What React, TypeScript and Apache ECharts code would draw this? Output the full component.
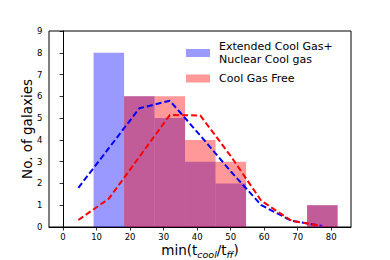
import React, { useEffect, useRef } from "react";
import * as echarts from "echarts";

const binEdges = [9.1, 18.2, 27.3, 36.4, 45.5, 54.6, 63.7, 72.8, 81.9];
const extendedCounts = [8, 6, 5, 3, 2, 0, 0, 1];
const freeCounts = [0, 6, 6, 4, 3, 0, 0, 1];
const curveX = [4.55, 13.65, 22.75, 31.85, 40.95, 50.05, 59.15, 68.25, 77.35];
const extendedCurve = [1.8, 3.62, 5.45, 5.8, 4.2, 2.55, 1.0, 0.28, 0.05];
const freeCurve = [0.32, 1.3, 3.22, 5.14, 5.12, 3.25, 1.2, 0.28, 0.05];
const xTicks = [0, 10, 20, 30, 40, 50, 60, 70, 80];

const extName = "Extended Cool Gas+\nNuclear Cool gas";
const freeName = "Cool Gas Free";
const FONT = "DejaVu Sans";

function histData(counts: number[]) {
  return counts.map((c, i) => [binEdges[i], binEdges[i + 1], c]);
}

function histSeries(name: string, counts: number[], color: string) {
  return {
    type: "custom",
    name,
    itemStyle: { color },
    encode: { x: [0, 1], y: 2 },
    data: histData(counts),
    renderItem: (params: any, api: any) => {
      const x0 = api.value(0);
      const x1 = api.value(1);
      const h = api.value(2);
      if (!h) return null;
      const p0 = api.coord([x0, h]);
      const p1 = api.coord([x1, 0]);
      return {
        type: "rect",
        shape: { x: p0[0], y: p0[1], width: p1[0] - p0[0], height: p1[1] - p0[1] },
        style: { fill: color },
      };
    },
  };
}

function lineSeries(name: string, ys: number[], color: string) {
  return {
    type: "line",
    name: name + " curve",
    data: curveX.map((x, i) => [x, ys[i]]),
    symbol: "none",
    lineStyle: { color, width: 2, type: [6, 3] },
    z: 5,
  };
}

export default function App() {
  const ref = useRef<HTMLDivElement>(null);
  useEffect(() => {
    if (!ref.current) return;
    const chart = echarts.init(ref.current, null, { renderer: "svg" });
    chart.setOption({
      animation: false,
      backgroundColor: "#fff",
      textStyle: { fontFamily: FONT },
      grid: {
        left: 49,
        right: 39,
        top: 31,
        bottom: 33,
        containLabel: false,
        outerBoundsMode: "none",
        show: true,
        borderColor: "#000",
        borderWidth: 1,
        backgroundColor: "transparent",
      },
      legend: {
        orient: "vertical",
        left: 186,
        top: 40,
        padding: 0,
        itemGap: 6,
        itemWidth: 24,
        itemHeight: 8,
        textStyle: { fontFamily: FONT, fontSize: 11, lineHeight: 13, color: "#000", padding: [0, 0, 0, 4] },
        data: [
          { name: extName, icon: "rect" },
          { name: freeName, icon: "rect" },
        ],
      },
      xAxis: {
        type: "value",
        min: -4.2,
        max: 85.9,
        name: "{a|min(t}{s|cool}{a|/t}{s|ff}{a|)}",
        nameLocation: "middle",
        nameGap: 14,
        nameMoveOverlap: false,
        nameTextStyle: {
          rich: {
            a: { fontFamily: FONT, fontSize: 13.5, color: "#000", lineHeight: 18, verticalAlign: "middle" },
            s: { fontFamily: FONT, fontSize: 9.5, fontStyle: "italic", color: "#000", verticalAlign: "bottom", lineHeight: 11 },
          },
        },
        axisLine: { show: true, onZero: false, lineStyle: { color: "#000", width: 1 } },
        axisTick: { show: true, length: 3.5, customValues: xTicks, lineStyle: { color: "#000", width: 0.8 } },
        axisLabel: { customValues: xTicks, fontFamily: FONT, fontSize: 8.5, color: "#000", margin: 5 },
        splitLine: { show: false },
      },
      yAxis: {
        type: "value",
        min: 0,
        max: 9,
        interval: 1,
        name: "No. of galaxies",
        nameLocation: "middle",
        nameGap: 15,
        nameMoveOverlap: false,
        nameTextStyle: { fontFamily: FONT, fontSize: 13.5, color: "#000" },
        axisLine: { show: true, lineStyle: { color: "#000", width: 1 } },
        axisTick: { show: true, length: 3.5, lineStyle: { color: "#000", width: 0.8 } },
        axisLabel: { fontFamily: FONT, fontSize: 8.5, color: "#000", margin: 6.5 },
        splitLine: { show: false },
      },
      series: [
        histSeries(extName, extendedCounts, "rgba(0,0,255,0.4)"),
        histSeries(freeName, freeCounts, "rgba(255,0,0,0.4)"),
        lineSeries("Extended", extendedCurve, "#0000ff"),
        lineSeries("Free", freeCurve, "#ff0000"),
      ],
    });
    return () => chart.dispose();
  }, []);
  return (
    <div
      ref={ref}
      style={{ position: "fixed", left: 0, top: 0, width: 390, height: 260, background: "#fff" }}
    />
  );
}
